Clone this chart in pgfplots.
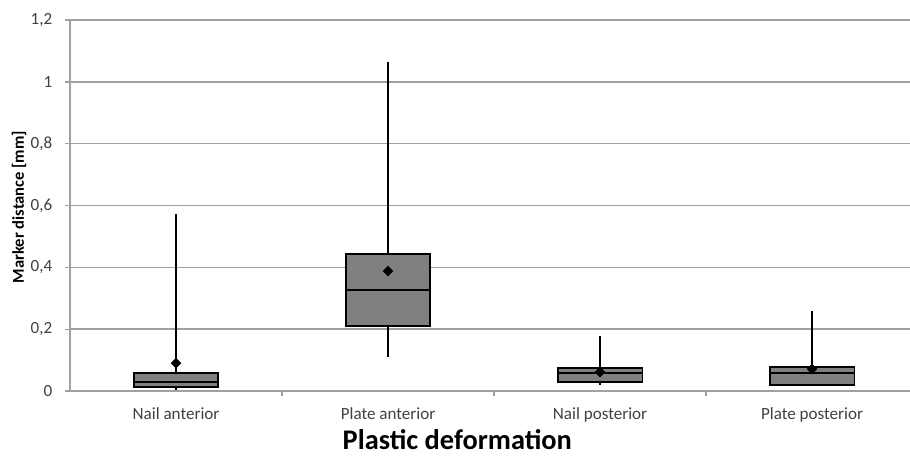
\documentclass[border=0pt]{standalone}
\usepackage{fontspec}
\setmainfont{Carlito}
\usepackage{pgfplots}
\pgfplotsset{compat=1.18}
\usepgfplotslibrary{statistics}
\definecolor{gridc}{HTML}{A0A0A0}
\definecolor{boxc}{HTML}{808080}
\definecolor{txt}{HTML}{404040}
\begin{document}
\begin{tikzpicture}
\path[use as bounding box] (0,0) rectangle (682.5pt,341.25pt);
\begin{axis}[
  at={(52.5pt,48pt)}, anchor=south west,
  scale only axis, width=630pt, height=278.25pt,
  xmin=-0.5, xmax=3.462, ymin=0, ymax=1.2,
  axis lines=left,
  axis line style={-, draw=gridc, line width=1.2pt},
  ymajorgrids, grid style={gridc, line width=1.2pt},
  ytick={0,0.2,0.4,0.6,0.8,1,1.2},
  xtick={0,1,2,3},
  xticklabels={Nail anterior, Plate anterior, Nail posterior, Plate posterior},
  minor xtick={0.5,1.5,2.5},
  tick align=outside,
  major tick length=3.75pt, minor tick length=3.75pt,
  tick style={draw=gridc, line width=1pt},
  major x tick style={draw=none},
  ticklabel style={font=\fontsize{12.8}{15}\selectfont, text=txt},
  yticklabel style={xshift=-6pt},
  xticklabel style={yshift=-5pt},
  /pgf/number format/assume math mode=true,
  /pgf/number format/use comma,
  /pgf/number format/fixed,
  /pgf/number format/precision=1,
  boxplot/draw direction=y,
  boxplot/box extend=0.4,
  boxplot/whisker extend=0,
  clip=false,
]
\addplot[boxplot prepared={draw position=0, lower whisker=0.003, lower quartile=0.013, median=0.029, upper quartile=0.058, upper whisker=0.572}, draw=black, fill=boxc, line width=1.4pt] coordinates {};
\addplot[boxplot prepared={draw position=1, lower whisker=0.11, lower quartile=0.21, median=0.327, upper quartile=0.443, upper whisker=1.064}, draw=black, fill=boxc, line width=1.4pt] coordinates {};
\addplot[boxplot prepared={draw position=2, lower whisker=0.02, lower quartile=0.029, median=0.058, upper quartile=0.074, upper whisker=0.178}, draw=black, fill=boxc, line width=1.4pt] coordinates {};
\addplot[boxplot prepared={draw position=3, lower whisker=0.015, lower quartile=0.019, median=0.058, upper quartile=0.078, upper whisker=0.259}, draw=black, fill=boxc, line width=1.4pt] coordinates {};
\addplot[only marks, mark=diamond*, mark size=3.7pt, mark options={xscale=1.3}, black] coordinates {(0,0.09) (1,0.388) (2,0.061) (3,0.071)};
\end{axis}
\node[font=\bfseries\fontsize{12.4}{15}\selectfont, text=black, rotate=90] at (14.25pt,186pt) {Marker distance [mm]};
\node[font=\bfseries\fontsize{21.3}{25}\selectfont, text=black, anchor=base, inner sep=0pt] at (343pt,4pt) {Plastic deformation};
\end{tikzpicture}
\end{document}
